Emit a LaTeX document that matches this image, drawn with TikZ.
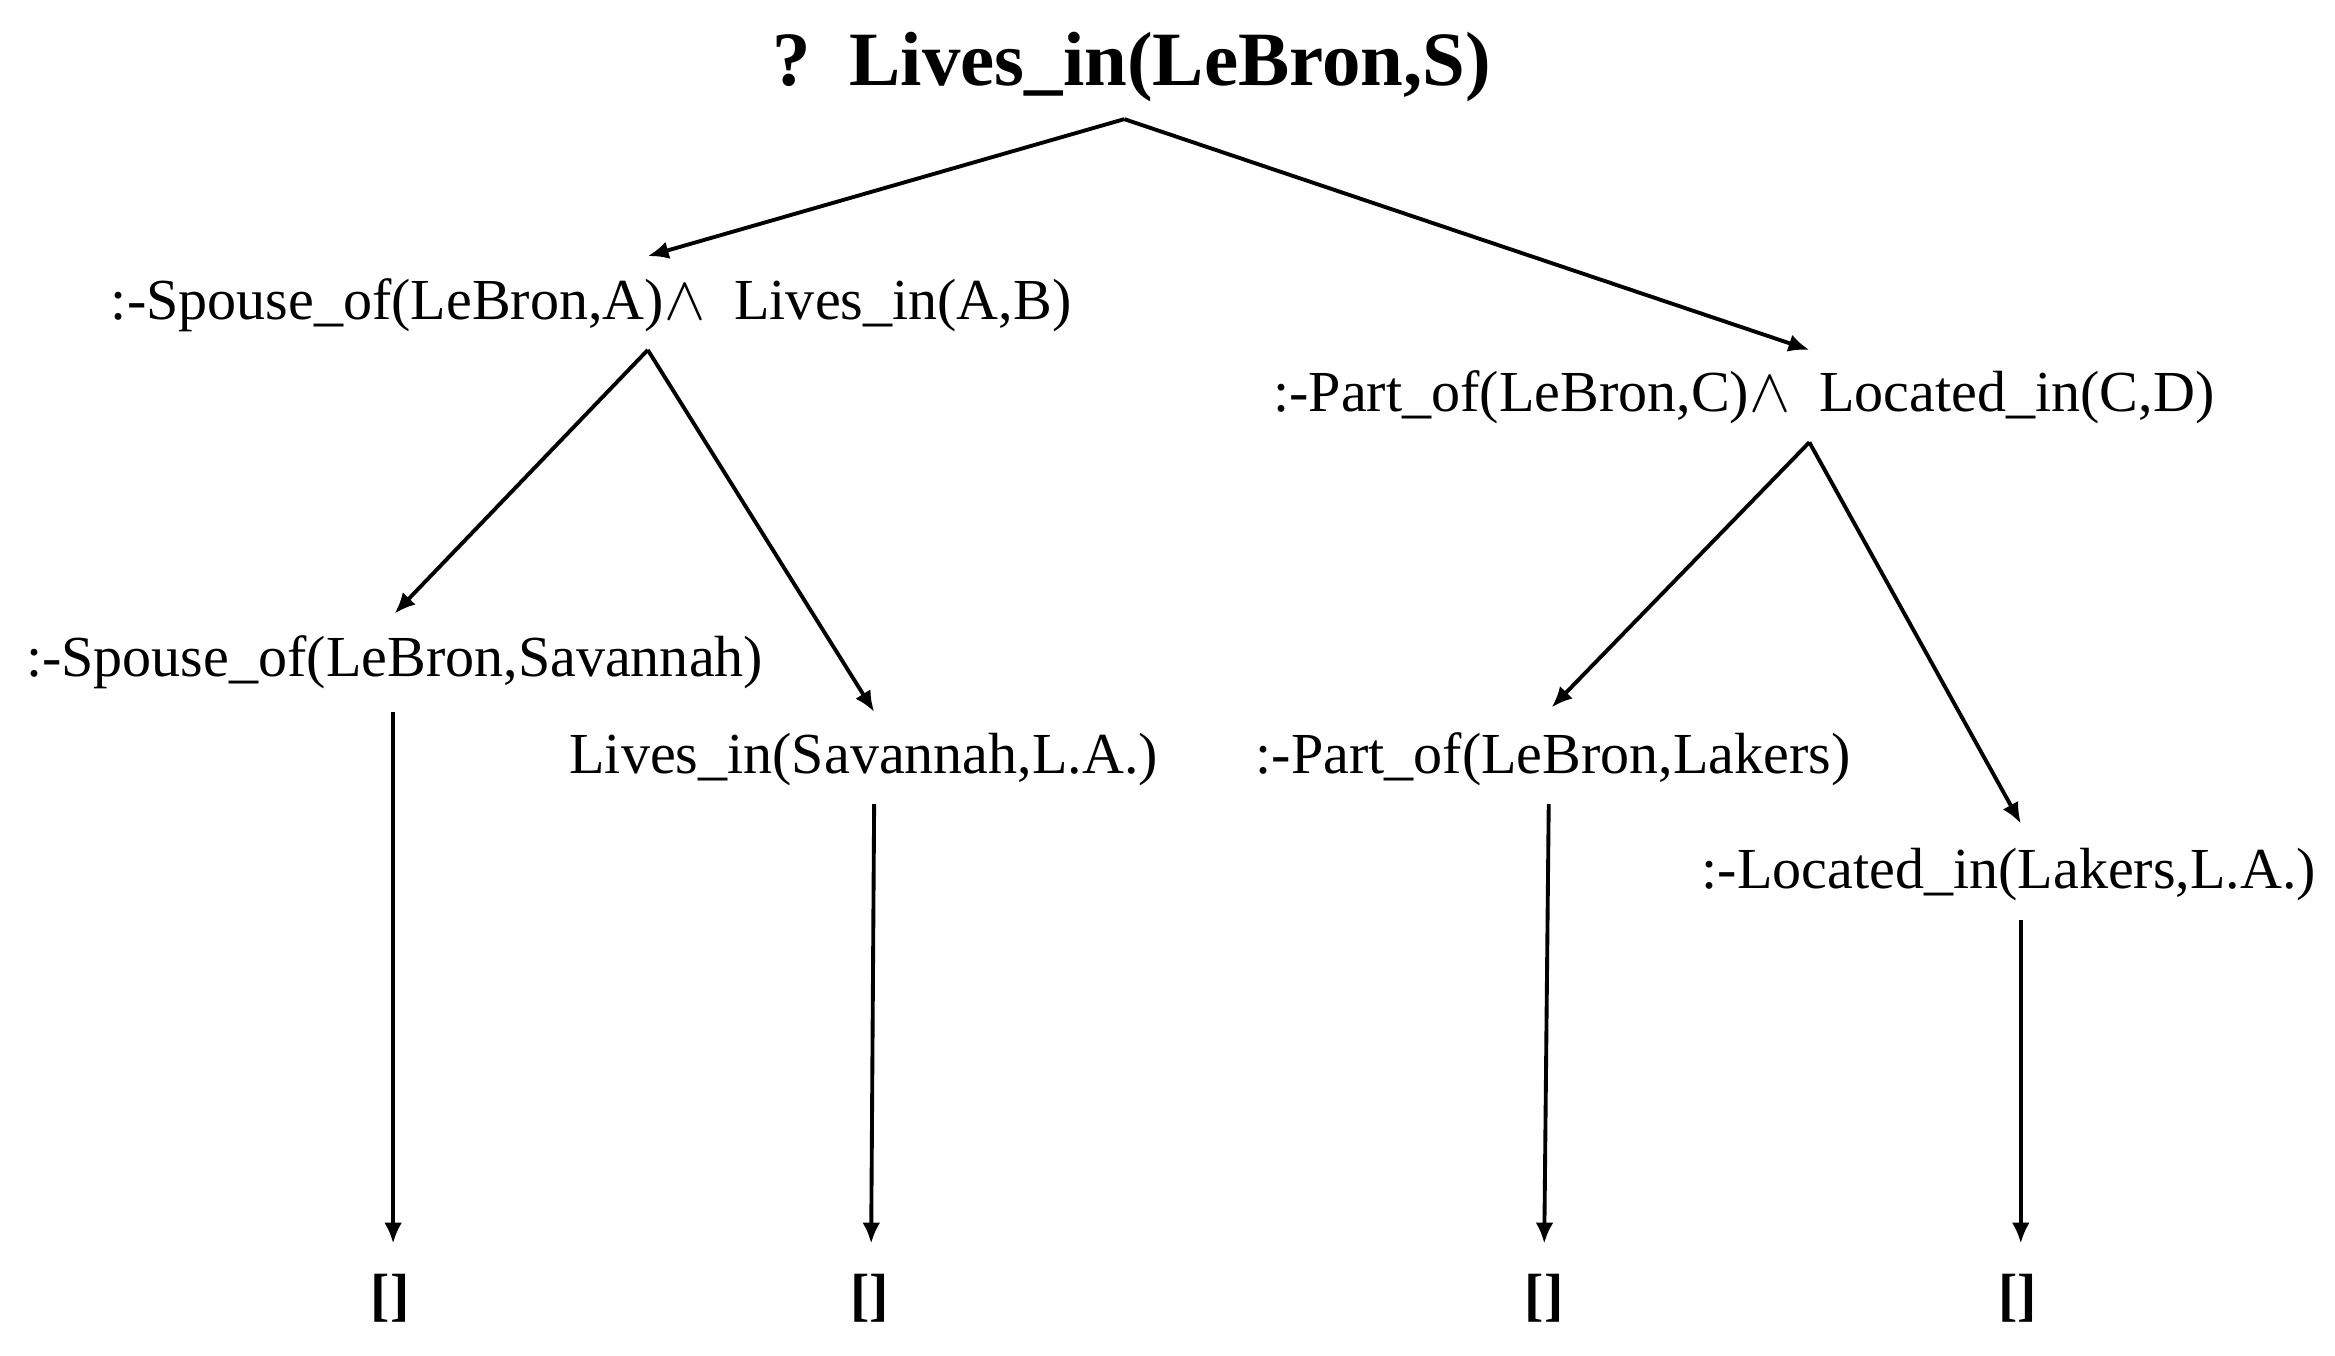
\documentclass[tikz,border=0pt]{standalone}
\usepackage{fontspec}
\setmainfont{Liberation Serif}
\usetikzlibrary{calc}
\usetikzlibrary{arrows.meta}

\begin{document}
\begin{tikzpicture}[x=0.5pt, y=-0.5pt,
    goal/.style={inner sep=0pt, font=\fontsize{19.5}{22}\selectfont},
    empty/.style={goal, font=\fontsize{19.5}{22}\selectfont\bfseries},
    query/.style={inner sep=0pt, font=\fontsize{25.8}{30}\selectfont\bfseries},
    edge/.style={line width=1.3pt, -{Latex[length=7pt, width=6pt]}}]
  \useasboundingbox (0,0) rectangle (1568,910);
  \node[query] (query) at (760,45)  {?\enspace Lives\_in(LeBron,S)};
  \node[goal]  (spouse) at (397,205) {:-Spouse\_of(LeBron,A)$\wedge$~~Lives\_in(A,B)};
  \node[goal]  (part)   at (1171,267) {:-Part\_of(LeBron,C)$\wedge$~~Located\_in(C,D)};
  \node[goal]  (spouseS) at (265,445) {:-Spouse\_of(LeBron,Savannah)};
  \node[goal]  (livesS)  at (580,510) {Lives\_in(Savannah,L.A.)};
  \node[goal]  (partL)   at (1043,510) {:-Part\_of(LeBron,Lakers)};
  \node[goal]  (locL)    at (1349,587) {:-Located\_in(Lakers,L.A.)};
  \node[empty] (emptyA)  at (262,872) {[]};
  \node[empty] (emptyB)  at (584,872) {[]};
  \node[empty] (emptyC)  at (1037,872) {[]};
  \node[empty] (emptyD)  at (1355,872) {[]};
  \draw[edge] ($(query)+(-5,35)$) -- ($(spouse)+(38,-33)$);
  \draw[edge] ($(query)+(-5,35)$) -- ($(part)+(44,-32)$);
  \draw[edge] ($(spouse)+(38,30)$) -- ($(spouseS)+(0,-33)$);
  \draw[edge] ($(spouse)+(38,30)$) -- ($(livesS)+(7,-32)$);
  \draw[edge] ($(part)+(44,30)$) -- ($(partL)+(-1,-35)$);
  \draw[edge] ($(part)+(44,30)$) -- ($(locL)+(8,-34)$);
  \draw[edge] ($(spouseS)+(-1,33)$) -- ($(emptyA)+(2,-37)$);
  \draw[edge] ($(livesS)+(7,30)$) -- ($(emptyB)+(1,-37)$);
  \draw[edge] ($(partL)+(-3,30)$) -- ($(emptyC)+(0,-37)$);
  \draw[edge] ($(locL)+(8,31)$) -- ($(emptyD)+(2,-37)$);
\end{tikzpicture}
\end{document}
